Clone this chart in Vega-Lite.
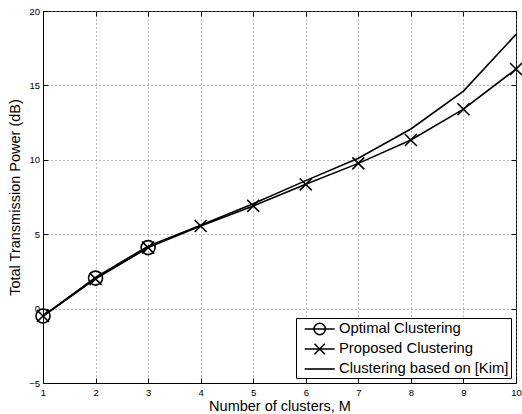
{
  "$schema": "https://vega.github.io/schema/vega-lite/v6.json",
  "width": 473,
  "height": 372,
  "autosize": {"type": "none"},
  "padding": {"left": 43, "top": 11, "right": 6, "bottom": 31},
  "background": "white",
  "config": {
    "font": "Liberation Sans",
    "view": {"stroke": "black", "strokeWidth": 1},
    "axis": {
      "domainColor": "black",
      "tickColor": "black",
      "labelColor": "black",
      "titleColor": "black",
      "labelFont": "Liberation Sans",
      "titleFont": "Liberation Sans",
      "labelFontSize": 9.5,
      "titleFontSize": 14.5,
      "titleFontWeight": "normal",
      "labelFlush": false,
      "labelOverlap": false,
      "gridColor": "#777",
      "gridDash": [1, 3],
      "gridOpacity": 1,
      "tickSize": -5
    }
  },
  "resolve": {"axis": {"x": "independent", "y": "independent"}},
  "data": {
    "values": [
      {"series": "Optimal Clustering", "x": 1, "y": -0.5},
      {"series": "Optimal Clustering", "x": 2, "y": 2.05},
      {"series": "Optimal Clustering", "x": 3, "y": 4.1},
      {"series": "Proposed Clustering", "x": 1, "y": -0.5},
      {"series": "Proposed Clustering", "x": 2, "y": 2.0},
      {"series": "Proposed Clustering", "x": 3, "y": 4.1},
      {"series": "Proposed Clustering", "x": 4, "y": 5.55},
      {"series": "Proposed Clustering", "x": 5, "y": 6.9},
      {"series": "Proposed Clustering", "x": 6, "y": 8.35},
      {"series": "Proposed Clustering", "x": 7, "y": 9.76},
      {"series": "Proposed Clustering", "x": 8, "y": 11.33},
      {"series": "Proposed Clustering", "x": 9, "y": 13.4},
      {"series": "Proposed Clustering", "x": 10, "y": 16.1},
      {"series": "Clustering based on [Kim]", "x": 1, "y": -0.5},
      {"series": "Clustering based on [Kim]", "x": 2, "y": 2.1},
      {"series": "Clustering based on [Kim]", "x": 3, "y": 4.2},
      {"series": "Clustering based on [Kim]", "x": 4, "y": 5.6},
      {"series": "Clustering based on [Kim]", "x": 5, "y": 7.05},
      {"series": "Clustering based on [Kim]", "x": 6, "y": 8.6},
      {"series": "Clustering based on [Kim]", "x": 7, "y": 10.1},
      {"series": "Clustering based on [Kim]", "x": 8, "y": 12.07},
      {"series": "Clustering based on [Kim]", "x": 9, "y": 14.62},
      {"series": "Clustering based on [Kim]", "x": 10, "y": 18.43}
    ]
  },
  "layer": [
    {
      "mark": {"type": "line", "strokeWidth": 1.6, "color": "black"},
      "encoding": {
        "x": {
          "field": "x", "type": "quantitative",
          "scale": {"domain": [1, 10], "nice": false, "zero": false},
          "axis": {"orient": "bottom", "title": "Number of clusters, M", "values": [1,2,3,4,5,6,7,8,9,10], "labelPadding": 9.5, "titlePadding": 2, "grid": true}
        },
        "y": {
          "field": "y", "type": "quantitative",
          "scale": {"domain": [-5, 20], "nice": false, "zero": false},
          "axis": {"orient": "left", "title": "Total Transmission Power (dB)", "values": [-5,0,5,10,15,20], "labelPadding": 8.5, "titlePadding": 6, "grid": true}
        },
        "detail": {"field": "series"},
        "color": {
          "field": "series", "type": "nominal",
          "scale": {"domain": ["Optimal Clustering", "Proposed Clustering", "Clustering based on [Kim]"], "range": ["black", "black", "black"]},
          "legend": {
            "title": null,
            "orient": "bottom-right",
            "offset": 5.5,
            "strokeColor": "black",
            "fillColor": "white",
            "padding": 2,
            "labelFontSize": 14.8,
            "labelFont": "Liberation Sans",
            "labelColor": "black",
            "labelLimit": 0,
            "symbolSize": 256,
            "symbolStrokeWidth": 1.6,
            "rowPadding": 2,
            "labelOffset": 23,
            "encode": {
              "symbols": {
                "update": {
                  "shape": {"signal": "datum.value === 'Optimal Clustering' ? 'M-0.29,0L3.46,0M2.3,0A0.71,0.71,0,1,1,0.88,0A0.71,0.71,0,1,1,2.3,0' : datum.value === 'Proposed Clustering' ? 'M-0.29,0L3.46,0M0.94,-0.65L2.24,0.65M0.94,0.65L2.24,-0.65' : 'M-0.29,0L3.46,0'"},
                  "fill": {"value": "transparent"},
                  "stroke": {"value": "black"},
                  "strokeWidth": {"value": 1.6},
                  "opacity": {"value": 1}
                }
              }
            }
          }
        }
      }
    },
    {
      "transform": [{"filter": "datum.series === 'Optimal Clustering'"}],
      "mark": {"type": "point", "shape": "circle", "size": 196, "stroke": "black", "strokeWidth": 1.6, "filled": false, "opacity": 1},
      "encoding": {
        "x": {"field": "x", "type": "quantitative", "axis": null},
        "y": {"field": "y", "type": "quantitative", "axis": null}
      }
    },
    {
      "transform": [{"filter": "datum.series === 'Proposed Clustering'"}],
      "mark": {"type": "point", "shape": "M-1,-1L1,1M-1,1L1,-1", "size": 144, "stroke": "black", "strokeWidth": 1.6, "filled": false, "opacity": 1},
      "encoding": {
        "x": {"field": "x", "type": "quantitative", "axis": {"orient": "top", "labels": false, "title": null, "values": [1,2,3,4,5,6,7,8,9,10], "grid": false, "domain": false}},
        "y": {"field": "y", "type": "quantitative", "axis": {"orient": "right", "labels": false, "title": null, "values": [-5,0,5,10,15,20], "grid": false, "domain": false}}
      }
    }
  ]
}
